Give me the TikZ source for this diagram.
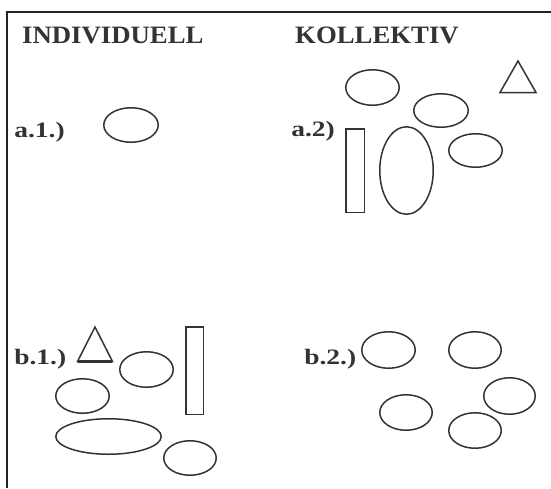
\documentclass[tikz,border=0pt]{standalone}
\usepackage{fontspec}
\setmainfont{Liberation Serif}
\usetikzlibrary{shapes.geometric}
\definecolor{ink}{HTML}{333333}
\definecolor{frameink}{HTML}{222222}
\tikzset{
  shp/.style={draw=ink, line width=1.5pt, inner sep=0pt},
  ell/.style={shp, ellipse, minimum width=#1},
  ell/.default=53.5pt,
  rectshape/.style={shp, rectangle},
  head/.style={anchor=base west, inner sep=0pt, font=\fontsize{25}{25}\selectfont\bfseries, text=ink, xscale=1.07},
  lab/.style={anchor=base west, inner sep=0pt, font=\fontsize{22}{22}\selectfont\bfseries, text=ink, xscale=1.25},
}
\begin{document}
\begin{tikzpicture}[x=1pt, y=-1pt]
\useasboundingbox (0,0) rectangle (551,488);
% frame
\draw[frameink, line width=2.5pt] (7,488) -- (7,12) -- (551,12);
% headings
\node[head] (hind) at (22,43) {INDIVIDUELL};
\node[head] (hkol) at (295,43) {KOLLEKTIV};
% labels
\node[lab] (la1) at (14,137) {a.1.)};
\node[lab] (la2) at (291,136) {a.2)};
\node[lab] (lb1) at (14,364) {b.1.)};
\node[lab] (lb2) at (304,364) {b.2.)};
% a.1
\node[ell=54.5pt, minimum height=34.5pt] (a1e) at (131,125) {};
% a.2
\node[ell=53.5pt, minimum height=35.5pt] (a2top) at (372.5,87.5) {};
\node[ell=54.5pt, minimum height=33.5pt] (a2mid) at (441,110.5) {};
\node[ell=53.5pt, minimum height=33.5pt] (a2right) at (475.5,150.5) {};
\node[ell=53.5pt, minimum height=87.5pt] (a2tall) at (406.5,170.5) {};
\node[rectshape, minimum width=18.5pt, minimum height=83.5pt] (a2rect) at (355,170.5) {};
\draw[ink, line width=1.5pt, line join=miter] (518,61) -- (536,92.5) -- (500,92.5) -- cycle;
% b.1
\draw[ink, line width=1.5pt, line join=miter] (95,327) -- (112.5,361.5) -- (77.5,361.5) -- cycle;
\draw[ink, line width=3pt] (78,361.5) -- (112,361.5);
\node[ell=53.5pt, minimum height=35.5pt] (b1e) at (146.5,369.5) {};
\node[rectshape, minimum width=17.5pt, minimum height=87.5pt] (b1rect) at (194.5,370.5) {};
\node[ell=53.5pt, minimum height=34.5pt] (b1left) at (82.5,396) {};
\node[ell=105.5pt, minimum height=35.5pt] (b1long) at (108.5,436.5) {};
\node[ell=52.5pt, minimum height=34.5pt] (b1br) at (190,458) {};
% b.2
\node[ell=53.5pt, minimum height=36.5pt] (b2a) at (388.5,350) {};
\node[ell=52.5pt, minimum height=36.5pt] (b2b) at (475,350) {};
\node[ell=51.5pt, minimum height=36.5pt] (b2c) at (509.5,396) {};
\node[ell=52.5pt, minimum height=35.5pt] (b2d) at (406,412.5) {};
\node[ell=52.5pt, minimum height=35.5pt] (b2e) at (475,430.5) {};
\end{tikzpicture}
\end{document}
